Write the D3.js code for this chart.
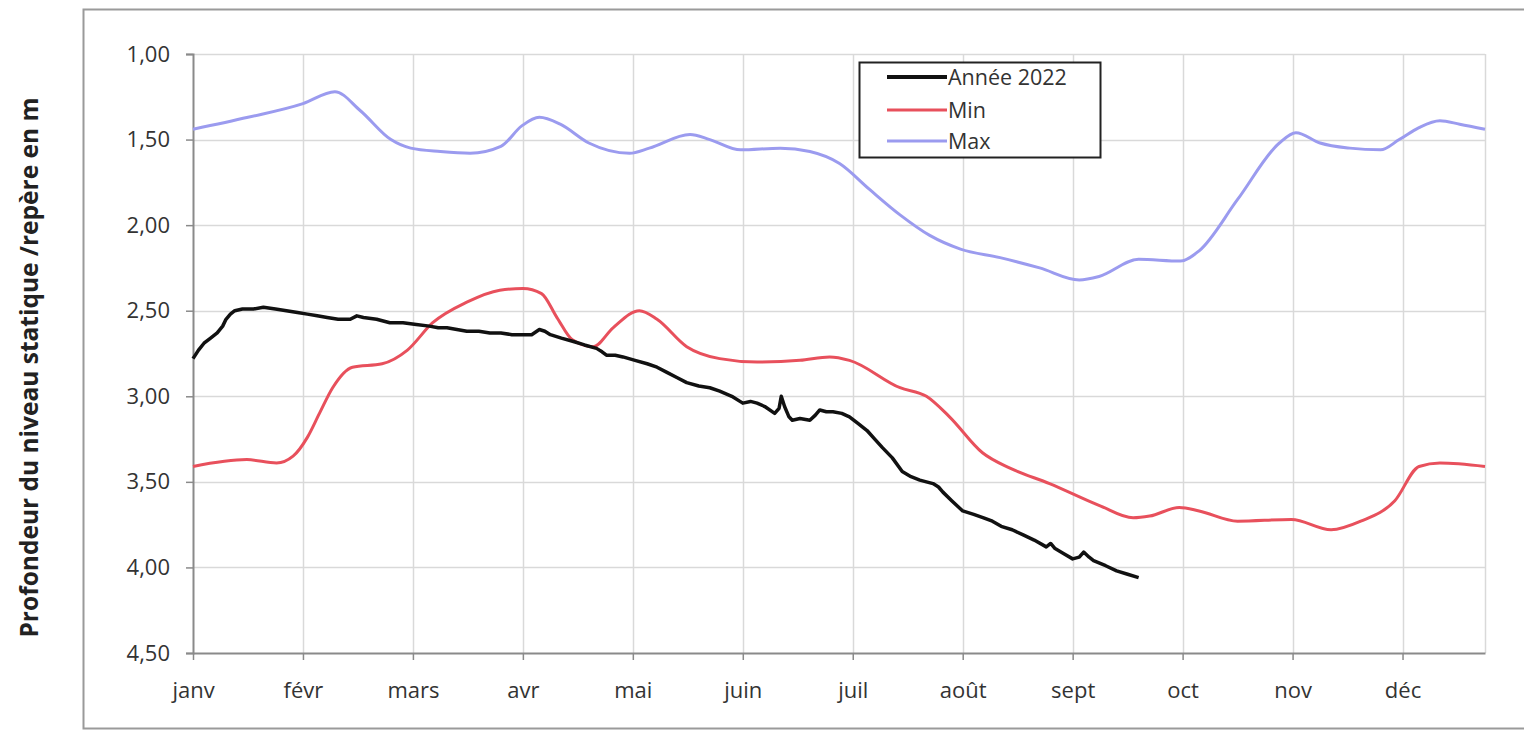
<!DOCTYPE html>
<html>
<head>
<meta charset="utf-8">
<script src="https://cdn.jsdelivr.net/npm/d3@7"></script>
<style>
  html, body { margin: 0; padding: 0; background: #fff; }
  svg { display: block; }
  text { font-family: "Open Sans", "DejaVu Sans", sans-serif; }
</style>
</head>
<body>
<svg id="chart" width="1524" height="732"></svg>
<script>
// ---- Data (x = month position, 0 = janv; y = depth in m) ----
const monthLabels = ["janv","févr","mars","avr","mai","juin","juil","août","sept","oct","nov","déc"];
const yTicks = [1.0, 1.5, 2.0, 2.5, 3.0, 3.5, 4.0, 4.5];

const maxX = [0, 0.5, 1.0, 1.29, 1.52, 1.8, 1.98, 2.25, 2.52, 2.8, 2.99, 3.15, 3.34, 3.6, 3.97, 4.15, 4.52, 4.7, 4.98, 5.34, 5.61, 5.88, 6.15, 6.43, 6.7, 6.98, 7.34, 7.7, 8.06, 8.24, 8.6, 8.98, 9.15, 9.5, 9.88, 10.03, 10.25, 10.52, 10.8, 10.97, 11.15, 11.34, 11.52, 11.75];
const maxY = [1.44, 1.37, 1.29, 1.22, 1.33, 1.50, 1.55, 1.57, 1.58, 1.54, 1.42, 1.37, 1.41, 1.52, 1.58, 1.55, 1.47, 1.50, 1.56, 1.55, 1.57, 1.64, 1.79, 1.94, 2.06, 2.14, 2.19, 2.25, 2.32, 2.30, 2.20, 2.21, 2.15, 1.85, 1.52, 1.46, 1.52, 1.55, 1.56, 1.50, 1.43, 1.39, 1.41, 1.44];

const minX = [0, 0.49, 0.76, 0.91, 1.04, 1.15, 1.27, 1.45, 1.72, 1.95, 2.18, 2.49, 2.79, 3.0, 3.17, 3.31, 3.45, 3.64, 3.82, 4.06, 4.22, 4.49, 4.79, 5.13, 5.52, 5.79, 5.97, 6.43, 6.67, 6.88, 7.18, 7.43, 7.79, 8.25, 8.55, 8.7, 8.97, 9.15, 9.5, 9.99, 10.35, 10.62, 10.93, 11.15, 11.34, 11.75];
const minY = [3.41, 3.37, 3.39, 3.35, 3.24, 3.10, 2.95, 2.83, 2.81, 2.73, 2.57, 2.45, 2.38, 2.37, 2.40, 2.54, 2.67, 2.71, 2.60, 2.50, 2.55, 2.71, 2.78, 2.80, 2.79, 2.77, 2.79, 2.95, 3.00, 3.12, 3.33, 3.42, 3.51, 3.64, 3.71, 3.70, 3.65, 3.67, 3.73, 3.72, 3.78, 3.73, 3.61, 3.41, 3.39, 3.41];

const yearX = [0, 0.05, 0.1, 0.16, 0.22, 0.27, 0.3, 0.34, 0.38, 0.45, 0.55, 0.64, 0.75, 0.85, 0.95, 1.04, 1.13, 1.22, 1.32, 1.43, 1.49, 1.55, 1.67, 1.79, 1.91, 2.03, 2.15, 2.23, 2.31, 2.4, 2.49, 2.6, 2.7, 2.8, 2.9, 3.0, 3.08, 3.15, 3.2, 3.25, 3.35, 3.46, 3.56, 3.67, 3.72, 3.76, 3.84, 3.91, 4.02, 4.13, 4.22, 4.31, 4.4, 4.49, 4.6, 4.7, 4.79, 4.9, 5.0, 5.07, 5.13, 5.2, 5.29, 5.33, 5.35, 5.38, 5.42, 5.45, 5.52, 5.61, 5.66, 5.7, 5.76, 5.82, 5.9, 5.97, 6.05, 6.13, 6.2, 6.27, 6.36, 6.45, 6.53, 6.61, 6.67, 6.73, 6.78, 6.82, 6.9, 7.0, 7.1, 7.19, 7.27, 7.35, 7.45, 7.55, 7.65, 7.76, 7.8, 7.84, 7.92, 8.0, 8.06, 8.1, 8.15, 8.19, 8.3, 8.4, 8.5, 8.6];
const yearY = [2.78, 2.73, 2.69, 2.66, 2.63, 2.59, 2.55, 2.52, 2.50, 2.49, 2.49, 2.48, 2.49, 2.50, 2.51, 2.52, 2.53, 2.54, 2.55, 2.55, 2.53, 2.54, 2.55, 2.57, 2.57, 2.58, 2.59, 2.60, 2.60, 2.61, 2.62, 2.62, 2.63, 2.63, 2.64, 2.64, 2.64, 2.61, 2.62, 2.64, 2.66, 2.68, 2.70, 2.72, 2.74, 2.76, 2.76, 2.77, 2.79, 2.81, 2.83, 2.86, 2.89, 2.92, 2.94, 2.95, 2.97, 3.00, 3.04, 3.03, 3.04, 3.06, 3.10, 3.07, 3.00, 3.06, 3.12, 3.14, 3.13, 3.14, 3.11, 3.08, 3.09, 3.09, 3.10, 3.12, 3.16, 3.20, 3.25, 3.30, 3.36, 3.44, 3.47, 3.49, 3.50, 3.51, 3.53, 3.56, 3.61, 3.67, 3.69, 3.71, 3.73, 3.76, 3.78, 3.81, 3.84, 3.88, 3.86, 3.89, 3.92, 3.95, 3.94, 3.91, 3.94, 3.96, 3.99, 4.02, 4.04, 4.06];

const seriesNames = ["Année 2022", "Min", "Max"];
const seriesColors = ["#111111", "#e8505c", "#9b9bef"];

// ---- Layout ----
const svg = d3.select("#chart");
const plot = { left: 193, right: 1485, top: 54, bottom: 653 };

const x = d3.scaleLinear().domain([0, 11.75]).range([plot.left, plot.right]);
const y = d3.scaleLinear().domain([1.0, 4.5]).range([plot.top, plot.bottom]);

// outer frame
svg.append("rect")
  .attr("x", 83.5).attr("y", 9.5).attr("width", 1460).attr("height", 719)
  .attr("fill", "none").attr("stroke", "#9a9a9a").attr("stroke-width", 2);

// gridlines
const grid = svg.append("g");
grid.selectAll("line.h").data(yTicks.slice(0, -1)).join("line")
  .attr("x1", plot.left).attr("x2", plot.right)
  .attr("y1", d => Math.round(y(d)) + 0.5).attr("y2", d => Math.round(y(d)) + 0.5)
  .attr("stroke", "#d9d9d9").attr("stroke-width", 1.5);
grid.selectAll("line.v").data(d3.range(1, 12)).join("line")
  .attr("y1", plot.top).attr("y2", plot.bottom)
  .attr("x1", d => Math.round(x(d)) + 0.5).attr("x2", d => Math.round(x(d)) + 0.5)
  .attr("stroke", "#d9d9d9").attr("stroke-width", 1.5);
grid.append("line")
  .attr("x1", plot.right + 0.5).attr("x2", plot.right + 0.5)
  .attr("y1", plot.top).attr("y2", plot.bottom)
  .attr("stroke", "#d9d9d9").attr("stroke-width", 1.5);

// y axis
const yAxis = d3.axisLeft(y).tickValues(yTicks)
  .tickFormat(d => d3.format(".2f")(d).replace(".", ","))
  .tickSize(7).tickPadding(16);
const gy = svg.append("g").attr("transform", `translate(${plot.left},0)`).call(yAxis);
gy.select(".domain").attr("stroke", "#8a8a8a").attr("stroke-width", 2);
gy.selectAll(".tick line").attr("stroke", "#8a8a8a").attr("stroke-width", 1.5);
gy.selectAll(".tick text").attr("font-size", 22).attr("fill", "#333")
  .attr("font-family", "'Open Sans', sans-serif");

// x axis
const xAxis = d3.axisBottom(x).tickValues(d3.range(0, 12))
  .tickFormat(i => monthLabels[i]).tickSize(7).tickPadding(22).tickSizeOuter(0);
const gx = svg.append("g").attr("transform", `translate(0,${plot.bottom})`).call(xAxis);
gx.select(".domain").attr("stroke", "#8a8a8a").attr("stroke-width", 2);
gx.selectAll(".tick line").attr("stroke", "#8a8a8a").attr("stroke-width", 1.5);
gx.selectAll(".tick text").attr("font-size", 22).attr("fill", "#333")
  .attr("font-family", "'Open Sans', sans-serif");

// y title
svg.append("text")
  .attr("transform", `translate(38,${(95 + 640) / 2}) rotate(-90)`)
  .attr("text-anchor", "middle")
  .attr("font-size", 24.5).attr("font-weight", "bold").attr("fill", "#222")
  .text("Profondeur du niveau statique /repère en m");

// lines
const smooth = d3.line().x(d => x(d[0])).y(d => y(d[1])).curve(d3.curveMonotoneX);
const jagged = d3.line().x(d => x(d[0])).y(d => y(d[1])).curve(d3.curveLinear);

svg.append("path").datum(d3.zip(maxX, maxY)).attr("d", smooth)
  .attr("fill", "none").attr("stroke", seriesColors[2]).attr("stroke-width", 3);
svg.append("path").datum(d3.zip(minX, minY)).attr("d", smooth)
  .attr("fill", "none").attr("stroke", seriesColors[1]).attr("stroke-width", 3);
svg.append("path").datum(d3.zip(yearX, yearY)).attr("d", jagged)
  .attr("fill", "none").attr("stroke", seriesColors[0]).attr("stroke-width", 3.5)
  .attr("stroke-linejoin", "round");

// legend
const lg = svg.append("g");
lg.append("rect").attr("x", 859.5).attr("y", 62.5).attr("width", 241).attr("height", 95)
  .attr("fill", "#fff").attr("stroke", "#222").attr("stroke-width", 2);
const rowsY = [77, 110, 141];
seriesNames.forEach((name, i) => {
  lg.append("line").attr("x1", 887).attr("x2", 947).attr("y1", rowsY[i]).attr("y2", rowsY[i])
    .attr("stroke", seriesColors[i]).attr("stroke-width", i === 0 ? 4 : 3);
  lg.append("text").attr("x", 948).attr("y", rowsY[i]).attr("dy", "0.35em")
    .attr("font-size", 21.5).attr("fill", "#333").text(name);
});
</script>
</body>
</html>
